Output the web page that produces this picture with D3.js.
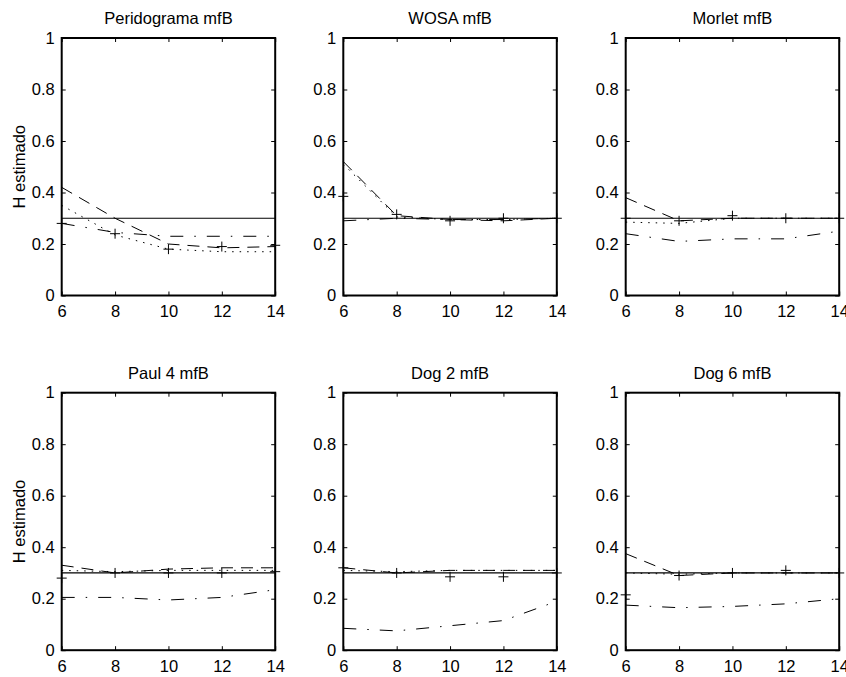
<!DOCTYPE html>
<html>
<head>
<meta charset="utf-8">
<script src="https://cdn.jsdelivr.net/npm/d3@7"></script>
<style>
  html, body { margin: 0; padding: 0; background: #fff; }
  svg text { font-family: "Liberation Sans", Arial, Helvetica, sans-serif; fill: #000; }
</style>
</head>
<body>
<svg id="fig" width="846" height="677"></svg>
<script>
// Escalas analizadas y valor teórico del exponente de Hurst
const escalas = [6, 8, 10, 12, 14];
const hTeorico = 0.3;
const titulos = ["Peridograma mfB", "WOSA mfB", "Morlet mfB", "Paul 4 mfB", "Dog 2 mfB", "Dog 6 mfB"];
const ticksY = [0, 0.2, 0.4, 0.6, 0.8, 1];
const etiquetasY = ["0", "0.2", "0.4", "0.6", "0.8", "1"];
const etiquetasX = ["6", "8", "10", "12", "14"];

// H estimado por estimador (una fila por método)
const serieDiscontinua = [
  [0.42, 0.30, 0.20, 0.185, 0.19],
  [0.52, 0.31, 0.295, 0.29, 0.30],
  [0.38, 0.29, 0.30, 0.30, 0.30],
  [0.33, 0.30, 0.315, 0.32, 0.32],
  [0.32, 0.30, 0.31, 0.31, 0.31],
  [0.375, 0.29, 0.30, 0.30, 0.30]
];
const seriePunteada = [
  [0.35, 0.235, 0.18, 0.17, 0.17],
  [0.51, 0.305, 0.295, 0.295, 0.30],
  [0.285, 0.28, 0.30, 0.30, 0.30],
  [0.31, 0.305, 0.31, 0.31, 0.31],
  [0.31, 0.305, 0.31, 0.31, 0.31],
  [0.30, 0.295, 0.30, 0.30, 0.30]
];
const seriePuntoRaya = [
  [0.28, 0.245, 0.23, 0.23, 0.23],
  [0.29, 0.30, 0.295, 0.295, 0.30],
  [0.24, 0.21, 0.22, 0.22, 0.25],
  [0.205, 0.205, 0.195, 0.205, 0.235],
  [0.085, 0.075, 0.095, 0.115, 0.19],
  [0.175, 0.165, 0.17, 0.18, 0.20]
];
const serieCruces = [
  [0.28, 0.24, 0.18, 0.19, 0.195],
  [0.385, 0.315, 0.29, 0.30, 0.30],
  [0.30, 0.29, 0.31, 0.30, 0.30],
  [0.28, 0.30, 0.30, 0.30, 0.305],
  [0.32, 0.30, 0.285, 0.285, 0.30],
  [0.215, 0.29, 0.30, 0.31, 0.30]
];

// Geometría de la rejilla 2x3
const izquierdas = [61.7, 343.3, 625.7];
const ancho = 213.5;
const arribas = [38, 392.7];
const alto = 257.5;
const fuente = 16.5;

const svg = d3.select("#fig");

const estilos = [
  { datos: serieDiscontinua, dash: "12,8" },
  { datos: seriePunteada, dash: "1.5,6" },
  { datos: seriePuntoRaya, dash: "13,11,1.5,11" }
];

titulos.forEach((titulo, i) => {
  const col = i % 3, fila = Math.floor(i / 3);
  const x0 = izquierdas[col], y0 = arribas[fila];
  const x = d3.scaleLinear().domain([6, 14]).range([x0, x0 + ancho]);
  const y = d3.scaleLinear().domain([0, 1]).range([y0 + alto, y0]);
  const g = svg.append("g");

  // Ejes con marcas hacia dentro en los cuatro lados
  const ejeInf = g.append("g").attr("transform", `translate(0,${y0 + alto})`)
    .call(d3.axisBottom(x).tickValues(escalas).tickSize(-4).tickPadding(10)
      .tickFormat((d, k) => etiquetasX[k]));
  const ejeSup = g.append("g").attr("transform", `translate(0,${y0})`)
    .call(d3.axisTop(x).tickValues(escalas).tickSize(-4).tickFormat(""));
  const ejeIzq = g.append("g").attr("transform", `translate(${x0},0)`)
    .call(d3.axisLeft(y).tickValues(ticksY).tickSize(-4).tickPadding(7)
      .tickFormat((d, k) => etiquetasY[k]));
  const ejeDer = g.append("g").attr("transform", `translate(${x0 + ancho},0)`)
    .call(d3.axisRight(y).tickValues(ticksY).tickSize(-4).tickFormat(""));
  [ejeInf, ejeSup, ejeIzq, ejeDer].forEach(e => {
    e.select(".domain").remove();
    e.selectAll(".tick line").attr("stroke", "#000").attr("stroke-width", 1);
    e.selectAll("text").attr("font-size", fuente).attr("font-family", null);
  });

  // Recuadro del eje
  g.append("rect").attr("x", x0).attr("y", y0).attr("width", ancho).attr("height", alto)
    .attr("fill", "none").attr("stroke", "#000").attr("stroke-width", 2);

  // Valor teórico
  g.append("line").attr("x1", x(6)).attr("x2", x(14))
    .attr("y1", y(hTeorico)).attr("y2", y(hTeorico))
    .attr("stroke", "#000").attr("stroke-width", 1.2);

  // Curvas de los estimadores
  const linea = d3.line().x((d, k) => x(escalas[k])).y(d => y(d));
  estilos.forEach(s => {
    g.append("path").attr("d", linea(s.datos[i]))
      .attr("fill", "none").attr("stroke", "#000").attr("stroke-width", 1)
      .attr("stroke-dasharray", s.dash);
  });

  // Marcadores "+"
  const r = 5;
  g.append("g").selectAll("path").data(serieCruces[i]).join("path")
    .attr("d", (d, k) => {
      const cx = x(escalas[k]), cy = y(d);
      return `M${cx - r},${cy}H${cx + r}M${cx},${cy - r}V${cy + r}`;
    })
    .attr("stroke", "#000").attr("stroke-width", 1).attr("fill", "none");

  // Título
  g.append("text").attr("x", x0 + ancho / 2).attr("y", y0 - 14)
    .attr("text-anchor", "middle").attr("font-size", fuente).text(titulo);

  // Etiqueta del eje Y en la primera columna
  if (col === 0) {
    g.append("text")
      .attr("transform", `translate(25,${y0 + alto / 2}) rotate(-90)`)
      .attr("text-anchor", "middle").attr("font-size", fuente).text("H estimado");
  }
});
</script>
</body>
</html>
